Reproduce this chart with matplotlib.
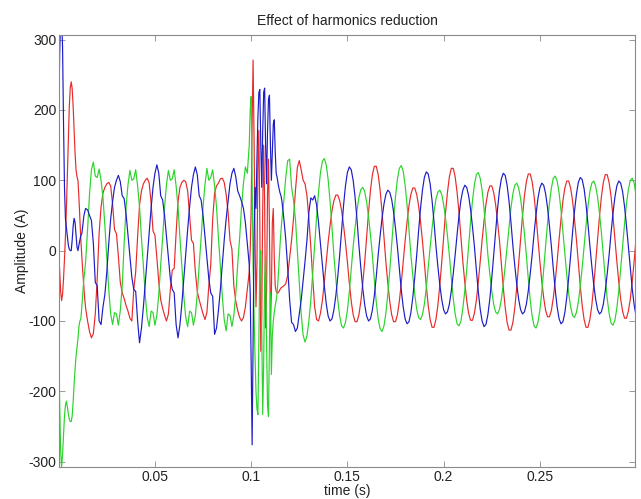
import matplotlib
matplotlib.use('Agg')
import matplotlib.pyplot as plt
import numpy as np

# Three phase line currents (A). Sampling is finer around the start-up and
# around the switching burst near t = 0.1 s.
t_start = np.arange(0, 14, 0.5)      # ms
t_pre = np.arange(14, 99, 1.0)
t_burst = np.arange(99, 116, 0.5)
t_post = np.arange(116, 301, 1.0)

red_start = [0, -30, -58, -71, -62, -40, -12, 20, 60, 110, 165, 205, 232, 240,
             230, 205, 170, 138, 115, 105, 100, 75, 45, 15, -8, -30, -50, -68]
blue_start = [175, 280, 330, 330, 290, 180, 90, 45, 33, 20, 8, 2, 0, 0,
              15, 35, 46, 40, 22, 5, 0, 8, 15, 22, 24, 35, 48, 55]
green_start = [-150, -220, -285, -307, -290, -262, -235, -220, -214, -222, -232, -240, -243, -243,
               -235, -215, -190, -168, -150, -138, -125, -108, -100, -97, -80, -60, -42, -30]

red_pre = [-82, -100, -115, -124, -118, -90, -40,
           25, 62, 82, 90, 95, 97, 92, 66, 30,
           24, -8, -45, -60, -68, -78, -86, -96, -100, -55,
           -30, 20, 65, 85, 95, 100, 103, 96, 68, 28,
           22, -10, -45, -70, -82, -92, -100, -90, -55, -28,
           -25, 25, 70, 90, 97, 100, 98, 85, 50, 15,
           10, -30, -58, -70, -80, -90, -98, -88, -50, -20,
           45, 82, 92, 96, 102, 103, 97, 80, 55, 15,
           2, -50, -72, -85, -95, -100, -95, -80, -55]
blue_pre = [60, 58, 50, 43, 10, -45,
            -50, -100, -105, -80, -62, -30, 10, 45, 70, 90,
            100, 107, 98, 78, 74, 52, 22, -8, -38, -55,
            -58, -100, -131, -110, -80, -45, -10, 25, 60, 90,
            110, 122, 110, 78, 72, 50, 20, -10, -40, -55,
            -60, -105, -124, -105, -75, -40, -5, 30, 62, 90,
            108, 119, 108, 78, 72, 50, 20, -10, -40, -60,
            -65, -119, -110, -85, -55, -20, 15, 45, 70, 95,
            110, 117, 105, 85, 78, 70, 60, 40, 10]
green_pre = [-15, 30, 80, 115, 126, 106, 104, 116, 100, 75, 35,
             -10, -55, -90, -105, -88, -90, -106, -85, -50, 10,
             62, 94, 114, 100, 102, 115, 92, 62, 18, -22,
             -65, -95, -108, -86, -88, -106, -92, -62, -20, 18,
             62, 94, 114, 100, 102, 115, 92, 62, 18, -22,
             -65, -95, -108, -86, -88, -106, -92, -62, -20, 18,
             62, 94, 117, 100, 104, 115, 92, 62, 18, -22,
             -65, -98, -114, -90, -92, -108, -92, -62, -20, 18,
             62, 96, 119, 110]

red_burst = [-30, 0, 60, 180, 271, 160, 20, -80, -20, 120, 171, 40, -143, -90, 60, 150, 70,
             -110, -60, 80, 130, 30, -100, -60, 40, 60, -10, -50, -58, -60, -60, -58, -55, -53]
blue_burst = [-20, -60, -160, -276, -120, 20, 90, 60, 130, 190, 225, 229, 150, 90, 170, 225, 231,
              150, 95, 170, 215, 221, 150, 100, 140, 180, 186, 140, 110, 104, 95, 88, 82, 78]
green_burst = [150, 200, 219, 100, -20, -90, -150, -200, -225, -233, -130, -20, 0, -120, -233, -160, -40,
               -10, -130, -220, -236, -130, -60, -176, -120, -100, -88, -78, -71, -60, -40, -15, 8, 28]

red_post = [-52, -50, -47, -35, -10, 15, 45, 85, 118, 128, 115, 100, 95, 78, 45, 5, -40, -80, -98, -100, -89, -71, -45, -16,
            12, 36, 57, 71, 79, 79, 71, 57, 36, 12, -16, -46, -72, -91, -101, -101, -91, -72, -46, -16,
            19, 55, 86, 108, 120, 120, 108, 86, 55, 19, -16, -46, -72, -91, -101, -101, -91, -72, -46, -16,
            14, 41, 64, 80, 89, 89, 80, 64, 41, 14, -17, -50, -78, -98, -109, -109, -98, -78, -50, -17,
            18, 54, 83, 105, 117, 117, 105, 83, 54, 18, -16, -45, -71, -89, -99, -99, -89, -71, -45, -16,
            15, 42, 66, 83, 92, 92, 83, 66, 42, 15, -18, -52, -81, -102, -113, -113, -102, -81, -52, -18,
            17, 50, 78, 98, 109, 109, 98, 78, 50, 17, -15, -43, -67, -85, -94, -94, -85, -67, -43, -15,
            16, 45, 71, 89, 99, 99, 89, 71, 45, 16, -17, -50, -78, -98, -109, -109, -98, -78, -50, -17,
            17, 49, 77, 97, 108, 108, 97, 77, 49, 17, -15, -44, -69, -86, -96, -96, -86, -69, -44, -15,
            17]
blue_post = [70, 45, 15, -25, -70, -102, -105, -115, -110, -90, -70, -43, -15, 15, 55, 75, 72, 78, 65, 40, 10, -20, -50, -75,
             -93, -100, -97, -84, -64, -37, -6, 30, 64, 92, 111, 119, 115, 100, 76, 44, 7, -25, -54, -77,
             -93, -100, -97, -84, -64, -37, -6, 21, 46, 66, 80, 86, 83, 73, 55, 32, 5, -26, -56, -80,
             -97, -104, -101, -88, -66, -38, -7, 28, 60, 86, 104, 112, 109, 95, 71, 41, 7, -22, -48, -69,
             -84, -90, -87, -76, -57, -33, -6, 23, 50, 72, 86, 93, 90, 78, 59, 34, 6, -27, -58, -83,
             -100, -108, -105, -91, -69, -40, -7, 27, 59, 85, 102, 110, 107, 93, 70, 40, 7, -22, -48, -69,
             -84, -90, -87, -76, -57, -33, -6, 24, 51, 74, 89, 96, 93, 81, 61, 35, 6, -26, -56, -80,
             -97, -104, -101, -88, -66, -38, -7, 26, 56, 80, 97, 104, 101, 88, 66, 38, 7, -22, -48, -69,
             -84, -90, -87, -76, -57, -33, -6, 25, 53, 76, 92, 99, 96, 84, 63, 36, 6, -25, -54, -77,
             -93]
green_post = [45, 72, 105, 128, 130, 90, 72, 45, 0, -45, -90, -120, -130, -121, -100, -70, -32, 8, 48, 83, 111, 127, 131, 122,
              101, 70, 33, -7, -40, -70, -93, -107, -110, -102, -85, -59, -27, 6, 33, 57, 76, 87, 90, 84,
              69, 48, 22, -7, -42, -73, -97, -111, -115, -107, -89, -62, -29, 8, 45, 77, 102, 117, 121, 113,
              93, 65, 30, -6, -36, -62, -83, -95, -98, -91, -76, -53, -24, 5, 32, 55, 73, 83, 86, 80,
              66, 46, 21, -7, -39, -68, -90, -104, -107, -100, -82, -57, -27, 7, 41, 71, 94, 108, 111, 103,
              86, 59, 28, -6, -33, -57, -76, -87, -90, -84, -69, -48, -22, 6, 35, 61, 81, 93, 96, 89,
              74, 51, 24, -7, -40, -70, -93, -107, -110, -102, -85, -59, -27, 7, 39, 68, 89, 103, 106, 99,
              82, 57, 26, -6, -35, -61, -80, -92, -95, -88, -73, -51, -24, 6, 36, 63, 84, 96, 99, 92,
              76, 53, 25, -7, -39, -68, -89, -103, -106, -99, -82, -57, -26, 6, 38, 66, 87, 100, 103, 96,
              79]

t = np.concatenate([t_start, t_pre, t_burst, t_post]) / 1000.0
i_red = np.concatenate([red_start, red_pre, red_burst, red_post])
i_green = np.concatenate([green_start, green_pre, green_burst, green_post])
i_blue = np.concatenate([blue_start, blue_pre, blue_burst, blue_post])

plt.rcParams['font.family'] = ['Liberation Sans', 'DejaVu Sans']
plt.rcParams['font.size'] = 10
plt.rcParams['axes.unicode_minus'] = False

fig = plt.figure(figsize=(6.41, 4.99), dpi=100)
ax = fig.add_axes([0.0925, 0.0635, 0.898, 0.867])

ax.plot(t, i_red, color='#e82a2a', lw=0.85)
ax.plot(t, i_green, color='#2ad42a', lw=0.85)
ax.plot(t, i_blue, color='#1c1cc8', lw=0.85)

ax.set_xlim(0.0003, 0.2994)
ax.set_ylim(-308, 307)
ax.set_xticks([0.05, 0.1, 0.15, 0.2, 0.25])
ax.set_xticklabels(['0.05', '0.1', '0.15', '0.2', '0.25'])
ax.set_yticks([-300, -200, -100, 0, 100, 200, 300])

ax.tick_params(direction='in', length=4, width=0.6, colors='#888888',
               labelcolor='#222222', top=True, right=True, pad=2)
for s in ax.spines.values():
    s.set_color('#8a8a8a')
    s.set_linewidth(0.8)

ax.set_xlabel('time (s)', labelpad=0, color='#222222')
ax.set_ylabel('Amplitude (A)', labelpad=0, color='#222222')
ax.set_title('Effect of harmonics reduction', fontsize=10, pad=7, color='#222222')

fig.savefig('out.png', dpi=100)
